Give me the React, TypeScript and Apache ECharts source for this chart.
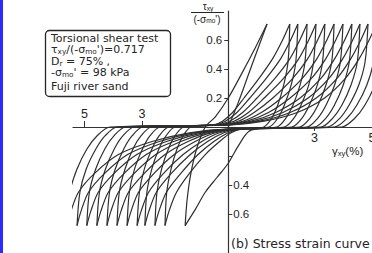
import React, { useEffect, useRef } from 'react';
import * as echarts from 'echarts';

// axis ticks / labels
const xTicksLeft = [-5, -3];
const xTicksRight = [3, 5];
const yTicksPos = [0.2, 0.4, 0.6];
const yTicksNeg = [-0.2, -0.4, -0.6];
const yLabelsNeg = [-0.4, -0.6];

// strain (%) , stress ratio tau/(-sigma_mo')
const initialLoading = [[0, 0], [0.35, 0.17], [0.7, 0.36], [1.05, 0.55], [1.35, 0.71]];

// unloading: peak P_i -> trough T_i
const unloadBranches = [
  [[1.35, 0.71], [0.95, 0.55], [0.5, 0.38], [0, 0.2], [-0.45, 0.07], [-0.8, 0.0], [-1.1, -0.15], [-1.3, -0.32], [-1.43, -0.5], [-1.5, -0.68]],
  [[2.14, 0.71], [1.89, 0.6], [1.54, 0.47], [1.05, 0.33], [0.55, 0.2], [0.15, 0.1], [-0.2, 0.04], [-0.5, 0.015], [-1.3, 0], [-1.57, -0.06], [-1.78, -0.15], [-1.99, -0.29], [-2.14, -0.45], [-2.2, -0.68]],
  [[2.42, 0.71], [2.17, 0.6], [1.82, 0.47], [1.3, 0.33], [0.75, 0.2], [0.3, 0.1], [-0.1, 0.04], [-0.45, 0.015], [-1.55, 0], [-1.85, -0.06], [-2.08, -0.15], [-2.32, -0.29], [-2.48, -0.45], [-2.55, -0.68]],
  [[2.74, 0.71], [2.49, 0.6], [2.14, 0.47], [1.6, 0.33], [1.0, 0.2], [0.5, 0.1], [0.05, 0.04], [-0.4, 0.015], [-1.85, 0], [-2.16, -0.06], [-2.41, -0.15], [-2.66, -0.29], [-2.83, -0.45], [-2.9, -0.68]],
  [[3.05, 0.71], [2.8, 0.6], [2.45, 0.47], [1.9, 0.33], [1.25, 0.2], [0.7, 0.1], [0.2, 0.04], [-0.35, 0.015], [-2.07, 0], [-2.4, -0.06], [-2.65, -0.15], [-2.92, -0.29], [-3.09, -0.45], [-3.17, -0.68]],
  [[3.36, 0.71], [3.11, 0.6], [2.76, 0.47], [2.22, 0.33], [1.55, 0.2], [0.9, 0.1], [0.35, 0.04], [-0.3, 0.015], [-2.37, 0], [-2.72, -0.06], [-2.98, -0.15], [-3.26, -0.29], [-3.44, -0.45], [-3.52, -0.68]],
  [[3.68, 0.71], [3.43, 0.6], [3.08, 0.47], [2.55, 0.33], [1.85, 0.2], [1.15, 0.1], [0.5, 0.04], [-0.25, 0.015], [-2.67, 0], [-3.03, -0.06], [-3.31, -0.15], [-3.59, -0.29], [-3.79, -0.45], [-3.87, -0.68]],
  [[3.99, 0.71], [3.74, 0.6], [3.39, 0.47], [2.87, 0.33], [2.15, 0.2], [1.4, 0.1], [0.65, 0.04], [-0.2, 0.015], [-2.97, 0], [-3.34, -0.06], [-3.63, -0.15], [-3.93, -0.29], [-4.13, -0.45], [-4.22, -0.68]],
  [[4.3, 0.71], [4.05, 0.6], [3.7, 0.47], [3.2, 0.33], [2.5, 0.2], [1.65, 0.1], [0.8, 0.04], [-0.15, 0.015], [-3.27, 0], [-3.66, -0.06], [-3.96, -0.15], [-4.27, -0.29], [-4.48, -0.45], [-4.57, -0.68]],
  [[4.58, 0.71], [4.33, 0.6], [3.98, 0.47], [3.48, 0.33], [2.78, 0.2], [1.9, 0.1], [0.95, 0.04], [-0.1, 0.015], [-3.57, 0], [-3.97, -0.06], [-4.29, -0.15], [-4.61, -0.29], [-4.83, -0.45], [-4.92, -0.68]],
  [[4.86, 0.71], [4.61, 0.6], [4.26, 0.47], [3.76, 0.33], [3.06, 0.2], [2.15, 0.1], [1.1, 0.04], [0, 0.015], [-3.86, 0], [-4.28, -0.06], [-4.6, -0.15], [-4.94, -0.29], [-5.16, -0.45], [-5.26, -0.68]],
  [[5.15, 0.71], [4.9, 0.6], [4.55, 0.47], [4.05, 0.33], [3.35, 0.2], [2.4, 0.1], [1.25, 0.04], [0.1, 0.015], [-4.11, 0], [-4.56, -0.06], [-4.91, -0.15], [-5.26, -0.29], [-5.51, -0.45], [-5.61, -0.68]],
];

// reloading: trough T_i -> next peak P_i+1
const reloadBranches = [
  [[-1.5, -0.68], [-1.15, -0.57], [-0.8, -0.45], [-0.4, -0.35], [0, -0.25], [0.35, -0.13], [0.72, -0.03], [1.24, 0], [1.51, 0.06], [1.72, 0.15], [1.93, 0.29], [2.08, 0.45], [2.14, 0.71]],
  [[-2.2, -0.68], [-2.06, -0.58], [-1.8, -0.45], [-1.35, -0.32], [-0.8, -0.19], [-0.3, -0.1], [0.1, -0.04], [0.45, -0.015], [1.42, 0], [1.72, 0.06], [1.95, 0.15], [2.19, 0.29], [2.35, 0.45], [2.42, 0.71]],
  [[-2.55, -0.68], [-2.41, -0.58], [-2.15, -0.45], [-1.65, -0.32], [-1.05, -0.19], [-0.5, -0.1], [0, -0.04], [0.4, -0.015], [1.69, 0], [2.0, 0.06], [2.25, 0.15], [2.5, 0.29], [2.67, 0.45], [2.74, 0.71]],
  [[-2.9, -0.68], [-2.76, -0.58], [-2.5, -0.45], [-1.98, -0.32], [-1.32, -0.19], [-0.72, -0.1], [-0.15, -0.04], [0.35, -0.015], [1.95, 0], [2.28, 0.06], [2.53, 0.15], [2.8, 0.29], [2.97, 0.45], [3.05, 0.71]],
  [[-3.17, -0.68], [-3.03, -0.58], [-2.77, -0.45], [-2.25, -0.32], [-1.57, -0.19], [-0.92, -0.1], [-0.3, -0.04], [0.3, -0.015], [2.21, 0], [2.56, 0.06], [2.82, 0.15], [3.1, 0.29], [3.28, 0.45], [3.36, 0.71]],
  [[-3.52, -0.68], [-3.38, -0.58], [-3.12, -0.45], [-2.58, -0.32], [-1.88, -0.19], [-1.15, -0.1], [-0.45, -0.04], [0.25, -0.015], [2.48, 0], [2.84, 0.06], [3.12, 0.15], [3.4, 0.29], [3.6, 0.45], [3.68, 0.71]],
  [[-3.87, -0.68], [-3.73, -0.58], [-3.47, -0.45], [-2.92, -0.32], [-2.2, -0.19], [-1.4, -0.1], [-0.6, -0.04], [0.2, -0.015], [2.74, 0], [3.11, 0.06], [3.4, 0.15], [3.7, 0.29], [3.9, 0.45], [3.99, 0.71]],
  [[-4.22, -0.68], [-4.08, -0.58], [-3.82, -0.45], [-3.27, -0.32], [-2.52, -0.19], [-1.65, -0.1], [-0.75, -0.04], [0.15, -0.015], [3.0, 0], [3.39, 0.06], [3.69, 0.15], [4.0, 0.29], [4.21, 0.45], [4.3, 0.71]],
  [[-4.57, -0.68], [-4.43, -0.58], [-4.17, -0.45], [-3.62, -0.32], [-2.85, -0.19], [-1.9, -0.1], [-0.9, -0.04], [0.1, -0.015], [3.23, 0], [3.63, 0.06], [3.95, 0.15], [4.27, 0.29], [4.49, 0.45], [4.58, 0.71]],
  [[-4.92, -0.68], [-4.78, -0.58], [-4.52, -0.45], [-3.97, -0.32], [-3.18, -0.19], [-2.15, -0.1], [-1.05, -0.04], [0.05, -0.015], [3.46, 0], [3.88, 0.06], [4.2, 0.15], [4.54, 0.29], [4.76, 0.45], [4.86, 0.71]],
  [[-5.26, -0.68], [-5.12, -0.58], [-4.86, -0.45], [-4.3, -0.32], [-3.5, -0.19], [-2.4, -0.1], [-1.2, -0.04], [0, -0.015], [3.7, 0], [4.13, 0.06], [4.47, 0.15], [4.82, 0.29], [5.05, 0.45], [5.15, 0.71]],
  [[-5.61, -0.68], [-5.47, -0.58], [-5.21, -0.45], [-4.65, -0.32], [-3.82, -0.19], [-2.65, -0.1], [-1.35, -0.04], [-0.05, -0.015], [3.95, 0], [4.4, 0.06], [4.75, 0.15], [5.1, 0.29], [5.35, 0.45], [5.45, 0.71]],
];

const boxLines = [
  '{m|Torsional shear test}',
  "{m|τ}{s|xy}{m|/(-σ}{s|mo}{m|')=0.717}",
  '{m|D}{s|r}{m| = 75% ,}',
  "{m|-σ}{s|mo}{m|' = 98 kPa}",
  '{m|Fuji river sand}',
];
const boxLineY = [38.5, 50, 61.5, 73, 86.5];

const FAM = "'Liberation Sans', Arial, sans-serif";
const FAM2 = "'DejaVu Sans', sans-serif";
const INK = '#252525';

// grid geometry (pixels)
const GRID_LEFT = 73;
const GRID_TOP = 11;
const GRID_W = 299;
const GRID_H = 246.5;
const X_MIN = -5.4;
const X_MAX = 5;
const Y_MIN = -0.9;
const Y_MAX = 0.8;

export default function App() {
  const ref = useRef<HTMLDivElement>(null);
  useEffect(() => {
    const chart = echarts.init(ref.current as HTMLDivElement, null, { renderer: 'svg' });
    const branches = [initialLoading, ...unloadBranches, ...reloadBranches];
    const series = branches.map((b, i) => ({
      type: 'line',
      name: 'b' + i,
      data: b,
      smooth: 0.3,
      showSymbol: false,
      symbol: 'none',
      clip: false,
      silent: true,
      lineStyle: { color: '#2e2e2e', width: 1.2 },
      xAxisIndex: 0,
      yAxisIndex: 0,
    }));
    const rich = (size: number, fam: string, lh: number) => ({
      m: { fontSize: size, fontFamily: fam, fill: INK, color: INK, verticalAlign: 'bottom', lineHeight: lh },
      s: { fontSize: Math.round(size * 0.66 * 10) / 10, fontFamily: fam, fill: INK, color: INK, verticalAlign: 'bottom', lineHeight: Math.round(size * 0.66) },
    });
    const labelStyle = { color: INK, fontFamily: FAM };
    // axes cross at the origin: shift them into the grid with negative offsets
    const zeroX = GRID_LEFT + ((0 - X_MIN) / (X_MAX - X_MIN)) * GRID_W;
    const zeroY = GRID_TOP + ((Y_MAX - 0) / (Y_MAX - Y_MIN)) * GRID_H;
    const yOffset = -(zeroX - GRID_LEFT);
    const xOffset = -(GRID_TOP + GRID_H - zeroY);
    const option: any = {
      animation: false,
      backgroundColor: '#fff',
      grid: { left: GRID_LEFT, top: GRID_TOP, width: GRID_W, height: GRID_H, containLabel: false, outerBoundsMode: 'none' },
      xAxis: [
        {
          type: 'value', min: X_MIN, max: X_MAX, position: 'bottom', offset: xOffset,
          axisLine: { show: true, onZero: false, lineStyle: { color: '#333', width: 1.2 } },
          axisTick: { show: true, inside: true, length: 6, customValues: xTicksLeft, lineStyle: { color: '#333' } },
          axisLabel: { show: true, inside: true, customValues: xTicksLeft, margin: 7, fontSize: 12.5, formatter: (v: number) => String(Math.abs(v)), ...labelStyle },
          splitLine: { show: false },
        },
        {
          type: 'value', min: X_MIN, max: X_MAX, position: 'bottom', offset: xOffset,
          axisLine: { show: false, onZero: false },
          axisTick: { show: true, inside: false, length: 4, customValues: xTicksRight, lineStyle: { color: '#333' } },
          axisLabel: { show: true, inside: false, customValues: xTicksRight, margin: 4, fontSize: 12.5, formatter: (v: number) => String(v), ...labelStyle },
          splitLine: { show: false },
        },
      ],
      yAxis: [
        {
          type: 'value', min: Y_MIN, max: Y_MAX, position: 'left', offset: yOffset,
          axisLine: { show: true, onZero: false, lineStyle: { color: '#333', width: 1.2 } },
          axisTick: { show: true, inside: false, length: 4, customValues: yTicksPos, lineStyle: { color: '#333' } },
          axisLabel: { show: true, customValues: yTicksPos, margin: 6, fontSize: 11.5, formatter: (v: number) => v.toFixed(1), ...labelStyle },
          splitLine: { show: false },
        },
        {
          type: 'value', min: Y_MIN, max: Y_MAX, position: 'left', offset: yOffset,
          axisLine: { show: false, onZero: false },
          axisTick: { show: true, inside: true, length: 4, customValues: yTicksNeg, lineStyle: { color: '#333' } },
          axisLabel: { show: true, inside: true, customValues: yLabelsNeg, margin: 5, fontSize: 11.5, formatter: (v: number) => Math.abs(v).toFixed(1), ...labelStyle },
          splitLine: { show: false },
        },
      ],
      series,
      graphic: [
        { type: 'rect', x: 0, y: 0, shape: { x: 0, y: 0, width: 3, height: 262 }, style: { fill: '#2b2bff' }, silent: true },
        { type: 'rect', shape: { x: 45.5, y: 30.5, width: 125, height: 66, r: 4 }, style: { fill: 'rgba(0,0,0,0)', stroke: INK, lineWidth: 1.3 }, silent: true },
        ...boxLines.map((t, i) => ({
          type: 'text', x: 51, y: boxLineY[i], silent: true,
          style: { text: t, rich: rich(11, FAM2, 10.5), fill: INK, align: 'left', verticalAlign: 'middle' },
        })),
        { type: 'text', x: 208, y: 6.5, silent: true, style: { text: '{m|τ}{s|xy}', rich: rich(10, FAM, 10), fill: INK, align: 'center', verticalAlign: 'middle' } },
        { type: 'line', shape: { x1: 191, y1: 12.5, x2: 224, y2: 12.5 }, style: { stroke: INK, lineWidth: 1 }, silent: true },
        { type: 'text', x: 207, y: 19, silent: true, style: { text: "{m|(-σ}{s|mo}{m|')}", rich: rich(10, FAM, 10), fill: INK, align: 'center', verticalAlign: 'middle' } },
        { type: 'text', x: 332, y: 151, silent: true, style: { text: '{m|γ}{s|xy}{m|(%)}', rich: rich(11.5, FAM, 12), fill: INK, align: 'left', verticalAlign: 'middle' } },
        { type: 'text', x: 231, y: 243, silent: true, style: { text: '(b) Stress strain curve', font: `12.5px ${FAM2}`, fill: INK, align: 'left', verticalAlign: 'middle' } },
      ],
    };
    chart.setOption(option);
    return () => chart.dispose();
  }, []);
  return (
    <div style={{ position: 'fixed', left: 0, top: 0, width: 372, height: 253, overflow: 'hidden', background: '#fff' }}>
      <div ref={ref} style={{ width: 372, height: 262 }} />
    </div>
  );
}
